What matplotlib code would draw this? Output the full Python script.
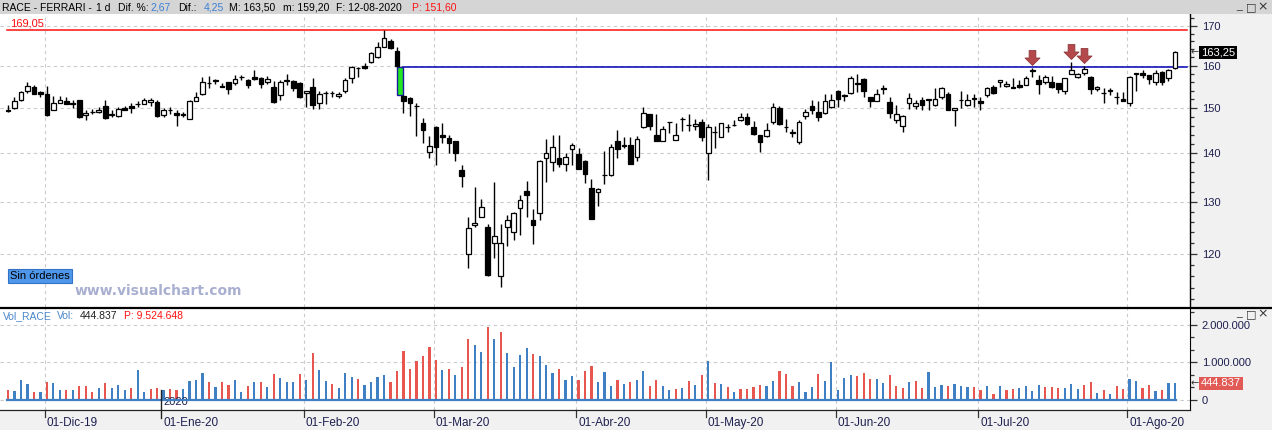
import matplotlib
matplotlib.use("Agg")
import matplotlib.pyplot as plt
import matplotlib.transforms as mtransforms
from matplotlib.lines import Line2D
from matplotlib.patches import Rectangle
from matplotlib.path import Path
from matplotlib.ticker import FixedLocator, FuncFormatter, NullFormatter, MultipleLocator
import numpy as np
import pandas as pd

plt.rcParams['font.family'] = ['Liberation Sans', 'DejaVu Sans']

# sesiones de Borsa Italiana (22-11-2019 .. 12-08-2020)
festivos = ['2019-12-24', '2019-12-25', '2019-12-26', '2019-12-31',
            '2020-01-01', '2020-04-10', '2020-04-13', '2020-05-01']
fechas = pd.bdate_range('2019-11-22', '2020-08-12', freq='C', holidays=festivos)
meses = {1: 'Ene', 2: 'Feb', 3: 'Mar', 4: 'Abr', 5: 'May', 6: 'Jun',
         7: 'Jul', 8: 'Ago', 9: 'Sep', 10: 'Oct', 11: 'Nov', 12: 'Dic'}

apertura = [
    149.6, 149.9, 151.9, 153.8, 154.8, 153.6, 153.2, 149.5, 151.1, 151.5,
    151.0, 151.7, 148.3, 149.0, 149.0, 150.5, 148.4, 148.1, 149.9, 150.4,
    150.8, 150.9, 151.4, 151.4, 148.4, 149.4, 148.8, 148.7, 147.5, 151.6,
    153.2, 155.8, 156.3, 155.1, 156.0, 155.8, 157.2, 156.6, 157.3, 157.1,
    156.0, 154.8, 152.9, 156.3, 156.2, 155.9, 153.5, 154.8, 151.2, 153.4,
    153.4, 152.8, 154.0, 157.1, 159.3, 159.8, 160.9, 162.0, 164.7, 166.2,
    163.7,
    152.8, 152.3, 150.5, 146.5, 140.3, 145.6, 144.0, 143.2, 142.5, 136.4,
    120.0, 125.5, 127.0, 125.1, 122.1, 116.0, 125.0, 124.1, 128.7, 132.1,
    126.3, 127.8, 139.0, 138.1, 138.9, 137.6, 140.9, 139.8, 138.4, 132.8,
    131.9, 135.3, 135.4, 142.6, 141.6, 141.7, 139.2, 145.6, 148.5, 143.9,
    142.6, 146.7, 142.8, 147.4, 146.2, 146.0, 146.8, 140.0, 144.6, 143.4,
    145.6, 146.1, 147.2, 148.0, 145.6, 143.8, 143.6, 146.7, 150.0, 145.7,
    144.4, 142.4, 148.1, 150.5, 149.0, 148.8, 150.1, 153.8, 152.8, 153.5,
    155.5, 156.8, 152.4, 151.6, 154.5, 151.3, 147.2, 145.8, 151.2, 150.5,
    151.9, 151.9, 150.6, 152.4, 153.3, 149.5, 151.7, 150.6, 152.1, 151.5,
    152.9, 154.9, 156.1, 155.0, 154.9, 155.3, 155.4, 159.0, 156.6, 156.1,
    156.0, 155.7, 153.9, 158.0, 157.2, 158.2, 157.3, 154.3, 153.4, 154.0,
    152.5, 152.1, 151.1, 158.0, 158.2, 157.6, 156.0, 158.5, 156.9, 159.4]

maximo = [
    150.6, 152.6, 153.9, 156.1, 155.2, 154.0, 155.1, 152.8, 152.8, 152.6,
    151.9, 151.8, 149.5, 149.8, 150.1, 151.7, 149.5, 150.1, 150.4, 151.2,
    151.5, 152.2, 152.3, 151.9, 149.9, 150.1, 149.4, 149.0, 151.7, 153.6,
    157.3, 157.5, 156.8, 155.7, 156.1, 157.7, 157.7, 156.7, 158.8, 157.2,
    157.5, 156.3, 156.5, 157.9, 156.4, 156.0, 154.0, 157.1, 154.0, 153.8,
    153.8, 153.7, 157.0, 159.9, 159.7, 160.5, 163.4, 165.8, 169.05, 166.6,
    164.7,
    152.9, 152.5, 151.2, 147.6, 143.7, 146.0, 146.5, 143.9, 142.6, 137.5,
    127.0, 133.0, 130.5, 125.7, 133.9, 125.6, 127.3, 127.9, 131.3, 134.1,
    128.6, 138.5, 143.0, 144.0, 144.0, 139.9, 142.2, 141.1, 138.5, 134.6,
    132.8, 140.4, 141.9, 145.0, 143.5, 143.5, 143.6, 150.2, 148.7, 148.5,
    145.8, 146.8, 146.5, 147.8, 148.5, 147.4, 147.4, 146.4, 146.0, 146.6,
    146.4, 147.3, 148.8, 148.9, 146.9, 143.9, 146.5, 151.1, 150.3, 147.4,
    145.3, 147.2, 149.8, 151.7, 151.5, 153.2, 153.2, 154.1, 153.3, 157.5,
    158.0, 157.0, 152.5, 154.4, 155.3, 152.6, 150.6, 148.3, 153.4, 151.8,
    152.6, 152.0, 154.5, 154.8, 153.6, 150.0, 153.8, 153.1, 153.1, 152.6,
    154.8, 155.2, 156.5, 156.3, 157.0, 156.6, 157.4, 159.5, 157.7, 157.8,
    157.5, 155.8, 157.1, 160.9, 158.1, 159.9, 157.4, 155.0, 154.6, 154.6,
    153.7, 153.7, 157.4, 158.2, 159.0, 157.7, 158.8, 158.6, 159.1, 163.5]

minimo = [
    149.1, 149.7, 151.5, 153.4, 153.2, 152.6, 148.2, 149.4, 151.0, 150.8,
    150.0, 147.6, 147.2, 148.5, 148.9, 147.5, 147.9, 147.9, 149.4, 148.9,
    150.1, 150.8, 150.5, 148.0, 147.9, 148.6, 145.9, 148.0, 147.4, 151.5,
    153.0, 154.6, 155.6, 154.8, 153.2, 155.3, 156.6, 154.6, 156.5, 154.6,
    155.6, 151.2, 151.9, 155.4, 154.0, 152.2, 150.2, 149.8, 149.7, 150.8,
    152.5, 152.3, 153.4, 155.9, 157.2, 159.2, 160.5, 161.8, 164.5, 164.0,
    159.6,
    148.9, 148.1, 143.6, 142.2, 139.0, 137.5, 142.1, 140.0, 138.3, 133.0,
    117.4, 125.0, 126.9, 116.1, 119.3, 114.1, 121.5, 122.5, 123.6, 127.0,
    121.8, 126.4, 134.0, 136.2, 137.1, 136.2, 137.5, 136.6, 133.7, 126.5,
    129.2, 133.5, 135.2, 138.9, 141.0, 137.6, 138.2, 145.4, 145.0, 142.5,
    142.5, 144.3, 142.7, 144.8, 144.8, 144.9, 142.5, 134.3, 141.0, 143.4,
    144.5, 145.8, 147.0, 146.2, 144.0, 140.2, 143.5, 146.3, 146.2, 144.5,
    143.5, 142.0, 147.4, 148.5, 147.0, 148.6, 149.9, 150.2, 151.5, 153.3,
    153.6, 152.4, 150.2, 151.5, 153.2, 147.7, 146.6, 144.5, 149.7, 149.7,
    149.4, 149.5, 150.3, 152.0, 149.4, 145.8, 150.0, 150.4, 150.2, 149.6,
    152.5, 153.3, 154.8, 154.8, 154.5, 154.7, 155.2, 157.3, 153.3, 155.5,
    154.5, 153.5, 153.3, 157.9, 157.1, 157.6, 153.2, 154.0, 151.2, 153.0,
    150.8, 151.5, 150.5, 154.0, 157.0, 155.5, 155.4, 155.3, 156.2, 159.2]

cierre = [
    149.2, 151.5, 153.6, 155.1, 153.3, 153.2, 148.3, 151.1, 151.7, 150.9,
    150.9, 148.0, 148.9, 149.1, 149.6, 147.6, 148.5, 149.7, 149.6, 149.9,
    150.9, 151.9, 151.9, 148.1, 149.5, 149.5, 148.3, 148.4, 151.5, 152.6,
    156.0, 155.9, 156.4, 154.9, 154.3, 156.8, 157.3, 155.3, 156.8, 155.6,
    156.8, 151.3, 156.1, 156.5, 154.6, 152.6, 153.9, 150.7, 153.2, 153.5,
    153.5, 153.3, 156.6, 159.6, 159.4, 159.4, 163.0, 164.7, 166.9, 164.3,
    159.8,
    151.5, 151.1, 150.4, 144.9, 141.4, 141.2, 143.4, 142.1, 140.1, 135.1,
    124.9, 125.9, 129.0, 116.2, 123.3, 122.1, 126.3, 127.7, 130.3, 131.2,
    125.4, 138.4, 140.0, 141.2, 137.7, 139.2, 141.8, 136.7, 135.5, 126.6,
    132.6, 135.4, 141.2, 140.8, 141.7, 137.7, 143.0, 148.8, 145.9, 142.6,
    145.2, 146.8, 143.9, 147.5, 146.1, 146.4, 143.4, 145.6, 144.5, 146.5,
    145.7, 146.2, 147.8, 146.4, 144.1, 142.4, 144.9, 150.2, 146.3, 145.6,
    144.5, 146.7, 149.0, 149.4, 148.0, 151.6, 151.8, 152.1, 152.9, 157.0,
    155.7, 153.9, 151.6, 153.3, 154.4, 148.9, 148.5, 148.1, 152.2, 151.0,
    150.7, 152.0, 152.1, 154.6, 149.5, 149.9, 151.8, 151.9, 152.2, 151.2,
    154.6, 153.5, 156.4, 155.6, 154.6, 154.9, 157.0, 158.6, 155.5, 157.2,
    154.9, 154.3, 157.0, 158.9, 158.0, 159.1, 154.4, 154.9, 153.5, 154.1,
    152.6, 151.6, 157.3, 158.1, 157.6, 156.7, 158.2, 156.0, 159.0, 163.25]

# volumen en millones de titulos
volumen_m = [
    0.27, 0.24, 0.52, 0.43, 0.21, 0.21, 0.48, 0.45, 0.27, 0.27,
    0.27, 0.36, 0.38, 0.21, 0.32, 0.45, 0.32, 0.40, 0.27, 0.32,
    0.80, 0.21, 0.30, 0.32, 0.27, 0.30, 0.27, 0.29, 0.51, 0.53,
    0.72, 0.48, 0.35, 0.48, 0.40, 0.53, 0.21, 0.37, 0.48, 0.48,
    0.35, 0.69, 0.59, 0.48, 0.48, 0.69, 0.53, 1.25, 0.80, 0.51,
    0.43, 0.32, 0.72, 0.61, 0.56, 0.40, 0.48, 0.61, 0.67, 0.48,
    0.77, 1.31, 0.83, 1.04, 1.17, 1.41, 1.07, 0.80, 0.83, 0.67,
    0.88, 1.63, 1.47, 1.28, 1.95, 1.63, 1.81, 1.25, 0.88, 1.20,
    1.39, 1.23, 1.17, 0.93, 0.72, 0.83, 0.53, 0.64, 0.53, 0.77,
    0.91, 0.48, 0.75, 0.37, 0.53, 0.43,
    0.48, 0.53, 0.77, 0.37, 0.53, 0.37, 0.27, 0.29, 0.32, 0.51,
    0.40, 0.67, 1.04, 0.45, 0.43, 0.35, 0.21, 0.29, 0.29, 0.35,
    0.40, 0.37, 0.51, 0.77, 0.69, 0.37, 0.48, 0.21, 0.35, 0.69,
    0.51, 1.01, 0.27, 0.59, 0.67, 0.64, 0.72, 0.56, 0.56, 0.45,
    0.67, 0.37, 0.32, 0.48, 0.51, 0.32, 0.75, 0.35, 0.40, 0.36,
    0.43, 0.37, 0.34, 0.34, 0.27, 0.37, 0.16, 0.37, 0.27, 0.29,
    0.32, 0.37, 0.24, 0.40, 0.35, 0.35, 0.32, 0.32, 0.43, 0.29,
    0.40, 0.48, 0.19, 0.27, 0.16, 0.37, 0.29, 0.56, 0.51, 0.32,
    0.40, 0.24, 0.27, 0.45, 0.444837]
# b = sube, r = baja (color de la barra de volumen)
vol_dir = ("rbbbrbrbbr" "brrrbrbbbr" "bbrrbrrbbb" "brbrrbbrbr" "brbbbrbrbb"
           "rbbbrbbbbr" "rrrrrrrbrb" "rrbbrbrbbb" "brbbbrbbrr" "rbbbrb"
           "rbbrrbbrbr" "brbrbrbrrr" "rbbrrrbbbr" "bbbbbrrrbb" "rrrbrrbbbr"
           "bbbrrbrbrr" "bbbbrrrbbb" "rrbrbrrbbr" "rbrbb")

max_anual = 169.05
hueco = 61            # sesion del 24-02-2020, gap a la baja
marcas = [158, 164, 166]

W, H = 1272, 430
fig = plt.figure(figsize=(W / 100, H / 100), dpi=100, facecolor='#f1f1f1')

n = len(cierre)
x = np.arange(n)
o = np.array(apertura)
c = np.array(cierre)
hi = np.array(maximo)
lo = np.array(minimo)
vol = np.array(volumen_m) * 1e6
xlim = (-1.234, 182.32)
grid_kw = dict(color='#c9c9cf', lw=0.8, ls=(0, (3, 3)), zorder=0)
txt_col = '#1e2050'

primeros = [i for i in range(1, n) if fechas[i].month != fechas[i - 1].month]

# ---------------- precio ----------------
ax = fig.add_axes([0, 1 - 307 / H, 1190 / W, (307 - 14) / H])
ax.set_facecolor('white')
ax.set_yscale('log')
ax.set_ylim(110.66, 173.1)
ax.set_xlim(*xlim)
for s in ['left', 'top', 'bottom']:
    ax.spines[s].set_visible(False)
ax.spines['right'].set_linewidth(1.0)
ax.set_xticks([])
ax.yaxis.tick_right()
ax.yaxis.set_major_locator(FixedLocator([120, 130, 140, 150, 160, 170]))
ax.yaxis.set_minor_locator(FixedLocator(np.arange(112, 174, 2)))
ax.yaxis.set_major_formatter(FuncFormatter(lambda v, p: f'{v:.0f}'))
ax.yaxis.set_minor_formatter(NullFormatter())
ax.tick_params(axis='y', which='major', length=5, width=0.9, pad=3.5,
               labelsize=8, labelcolor=txt_col, color='#333333')
ax.tick_params(axis='y', which='minor', length=3, width=0.9, color='#333333')

for v in [120, 130, 140, 150, 160, 170]:
    ax.axhline(v, **grid_kw)
for i in primeros:
    if fechas[i].year == fechas[i - 1].year:
        ax.axvline(i - 0.35, **grid_kw)

tr = mtransforms.blended_transform_factory(ax.transAxes, ax.transData)
ax.axhline(max_anual, xmin=7 / 1190, xmax=1187 / 1190, color='#ff1010', lw=1.1, zorder=1)
ax.text(10 / 1190, max_anual * 1.001, f'{max_anual:.2f}'.replace('.', ','),
        transform=tr, color='#ff1010', fontsize=8, va='bottom')

# hueco
g_top = lo[hueco - 1]
g_bot = hi[hueco]
ax.add_patch(Rectangle((hueco - 1, g_bot), 1, g_top - g_bot, fc='#22e622',
                       ec='#1a1aa0', lw=1.0, zorder=2))
ax.plot([hueco, 181.85], [g_top, g_top], color='#0000b4', lw=1.1, zorder=1)

# velas
up = c >= o
ax.vlines(x, lo, hi, color='black', lw=1.0, zorder=3)
ax.bar(x, np.abs(c - o), bottom=np.minimum(o, c), width=0.72,
       color=np.where(up, 'white', 'black'), edgecolor='black', linewidth=0.9, zorder=4)

# flechas
flecha = Path([(0, 0), (-1, 1), (-0.45, 1), (-0.45, 2), (0.45, 2), (0.45, 1), (1, 1), (0, 0)],
              [Path.MOVETO] + [Path.LINETO] * 6 + [Path.CLOSEPOLY])
off = ax.transData + mtransforms.ScaledTranslation(0, 0.03, fig.dpi_scale_trans)
ax.plot(x[marcas], hi[marcas], ls='none', marker=flecha, ms=21.6, color='#b5484b',
        mec='#8e3a3c', mew=0.6, transform=off, zorder=6)

# etiqueta ultimo precio
ax.text(1 + 1 / 1190, c[-1], '←', transform=tr, fontsize=7, color='#333333',
        va='center', ha='left', clip_on=False, family=['DejaVu Sans'])
ax.text(1 + 11 / 1190, c[-1], f'{c[-1]:.2f}'.replace('.', ','), transform=tr, fontsize=8,
        color='white', va='center', ha='left', clip_on=False, zorder=10,
        bbox=dict(boxstyle='square,pad=0.15', fc='black', ec='none'))

ax.text(10 / 1190, (307 - 276) / 293, 'Sin órdenes', transform=ax.transAxes, fontsize=8,
        va='center', color='black',
        bbox=dict(boxstyle='square,pad=0.2', fc='#4f97ea', ec='#3273c6', lw=0.8))
ax.text(75 / 1190, (307 - 291) / 293, 'www.visualchart.com', transform=ax.transAxes,
        fontsize=10, fontweight='bold', color='#a9afd0', va='center', family=['DejaVu Sans'])

# ---------------- volumen ----------------
axv = fig.add_axes([0, 1 - 410 / H, 1190 / W, (410 - 308) / H])
axv.set_facecolor('white')
axv.set_xlim(*xlim)
axv.set_ylim(-0.267e6, 2.453e6)
for s in ['left', 'top', 'bottom']:
    axv.spines[s].set_visible(False)
axv.set_xticks([])
axv.yaxis.tick_right()
axv.yaxis.set_major_locator(FixedLocator([0, 1e6, 2e6]))
axv.yaxis.set_minor_locator(MultipleLocator(1e6 / 3))
axv.yaxis.set_major_formatter(FuncFormatter(lambda v, p: f'{int(v):,}'.replace(',', '.')))
axv.tick_params(axis='y', which='major', length=5, width=0.9, pad=3.5,
                labelsize=8, labelcolor=txt_col, color='#333333')
axv.tick_params(axis='y', which='minor', length=3, width=0.9, color='#333333')
for v in [0, 1e6, 2e6]:
    axv.axhline(v, **grid_kw)

vcol = ['#3f7fc4' if d == 'b' else '#e8574f' for d in vol_dir]
axv.bar(x, vol, width=0.34, color=vcol, zorder=3)
axv.plot([-0.2, n - 0.8], [0, 0], color='#3f7fc4', lw=1.6, zorder=4)

trv = mtransforms.blended_transform_factory(axv.transData, axv.transAxes)
for i in primeros:
    lx = i - 0.35
    if fechas[i].year != fechas[i - 1].year:
        axv.plot([lx, lx], [20 / 102, -8 / 102], transform=trv, clip_on=False,
                 color='#222222', lw=1.0, zorder=5)
        axv.text(lx + 0.4, 5 / 102, str(fechas[i].year), transform=trv, fontsize=8,
                 color=txt_col, va='baseline', ha='left')
    else:
        axv.axvline(lx, **grid_kw)
        axv.plot([lx, lx], [0, -7 / 102], transform=trv, clip_on=False,
                 color='#333333', lw=0.9)
    lab = f'01-{meses[fechas[i].month]}-{fechas[i].strftime("%y")}'
    axv.text(lx + 0.3, -16 / 102, lab, transform=trv, fontsize=8.5, color=txt_col,
             va='baseline', ha='left', clip_on=False)

trv2 = mtransforms.blended_transform_factory(axv.transAxes, axv.transData)
axv.text(1 + 1 / 1190, vol[-1], '←', transform=trv2, fontsize=7, color='#333333',
         va='center', ha='left', clip_on=False, family=['DejaVu Sans'])
axv.text(1 + 11 / 1190, vol[-1], f'{int(vol[-1]):,}'.replace(',', '.'), transform=trv2,
         fontsize=8, color='white', va='center', ha='left', clip_on=False, zorder=10,
         bbox=dict(boxstyle='square,pad=0.15', fc='#e25a55', ec='none'))

# ---------------- cabeceras y marcos ----------------
fig.patches.append(Rectangle((0, 1 - 14 / H), 1, 14 / H, transform=fig.transFigure,
                             fc='#d5d5d5', ec='none', zorder=1))


def ftxt(px, py, s, col='black', **kw):
    fig.text(px / W, 1 - py / H, s, color=col, fontsize=7.5, va='baseline', ha='left', **kw)


ftxt(2, 11, 'RACE - FERRARI -')
ftxt(96, 11, '1 d')
ftxt(118, 11, 'Dif. %:')
ftxt(150, 11, '2,67', '#3b80d6')
ftxt(178, 11, 'Dif.:')
ftxt(204, 11, '4,25', '#3b80d6')
ftxt(229, 11, 'M: 163,50')
ftxt(283, 11, 'm: 159,20')
ftxt(336, 11, 'F: 12-08-2020')
ftxt(412, 11, 'P: 151,60', '#ff1010')

ftxt(3, 319, 'Vol_RACE', '#4a86c8')
ftxt(57, 319, 'Vol:', '#4a86c8')
ftxt(80, 319, '444.837', '#222222')
ftxt(124, 319, 'P: 9.524.648', '#ff1010')

for yy in (7, 314):
    ftxt(1236, yy + 2, '_', '#333333')
    fig.text(1251 / W, 1 - yy / H, '□', color='#333333', fontsize=8, va='center',
             ha='center', family=['DejaVu Sans'])
    fig.text(1263 / W, 1 - yy / H, '×', color='#333333', fontsize=9, va='center',
             ha='center', family=['DejaVu Sans'])

fig.add_artist(Line2D([0, 1], [1 - 307.5 / H] * 2, transform=fig.transFigure,
                      color='black', lw=1.6))
fig.add_artist(Line2D([0, 1190 / W], [1 - 410 / H] * 2, transform=fig.transFigure,
                      color='#222222', lw=0.9))

fig.savefig('out.png', dpi=100, facecolor=fig.get_facecolor())
